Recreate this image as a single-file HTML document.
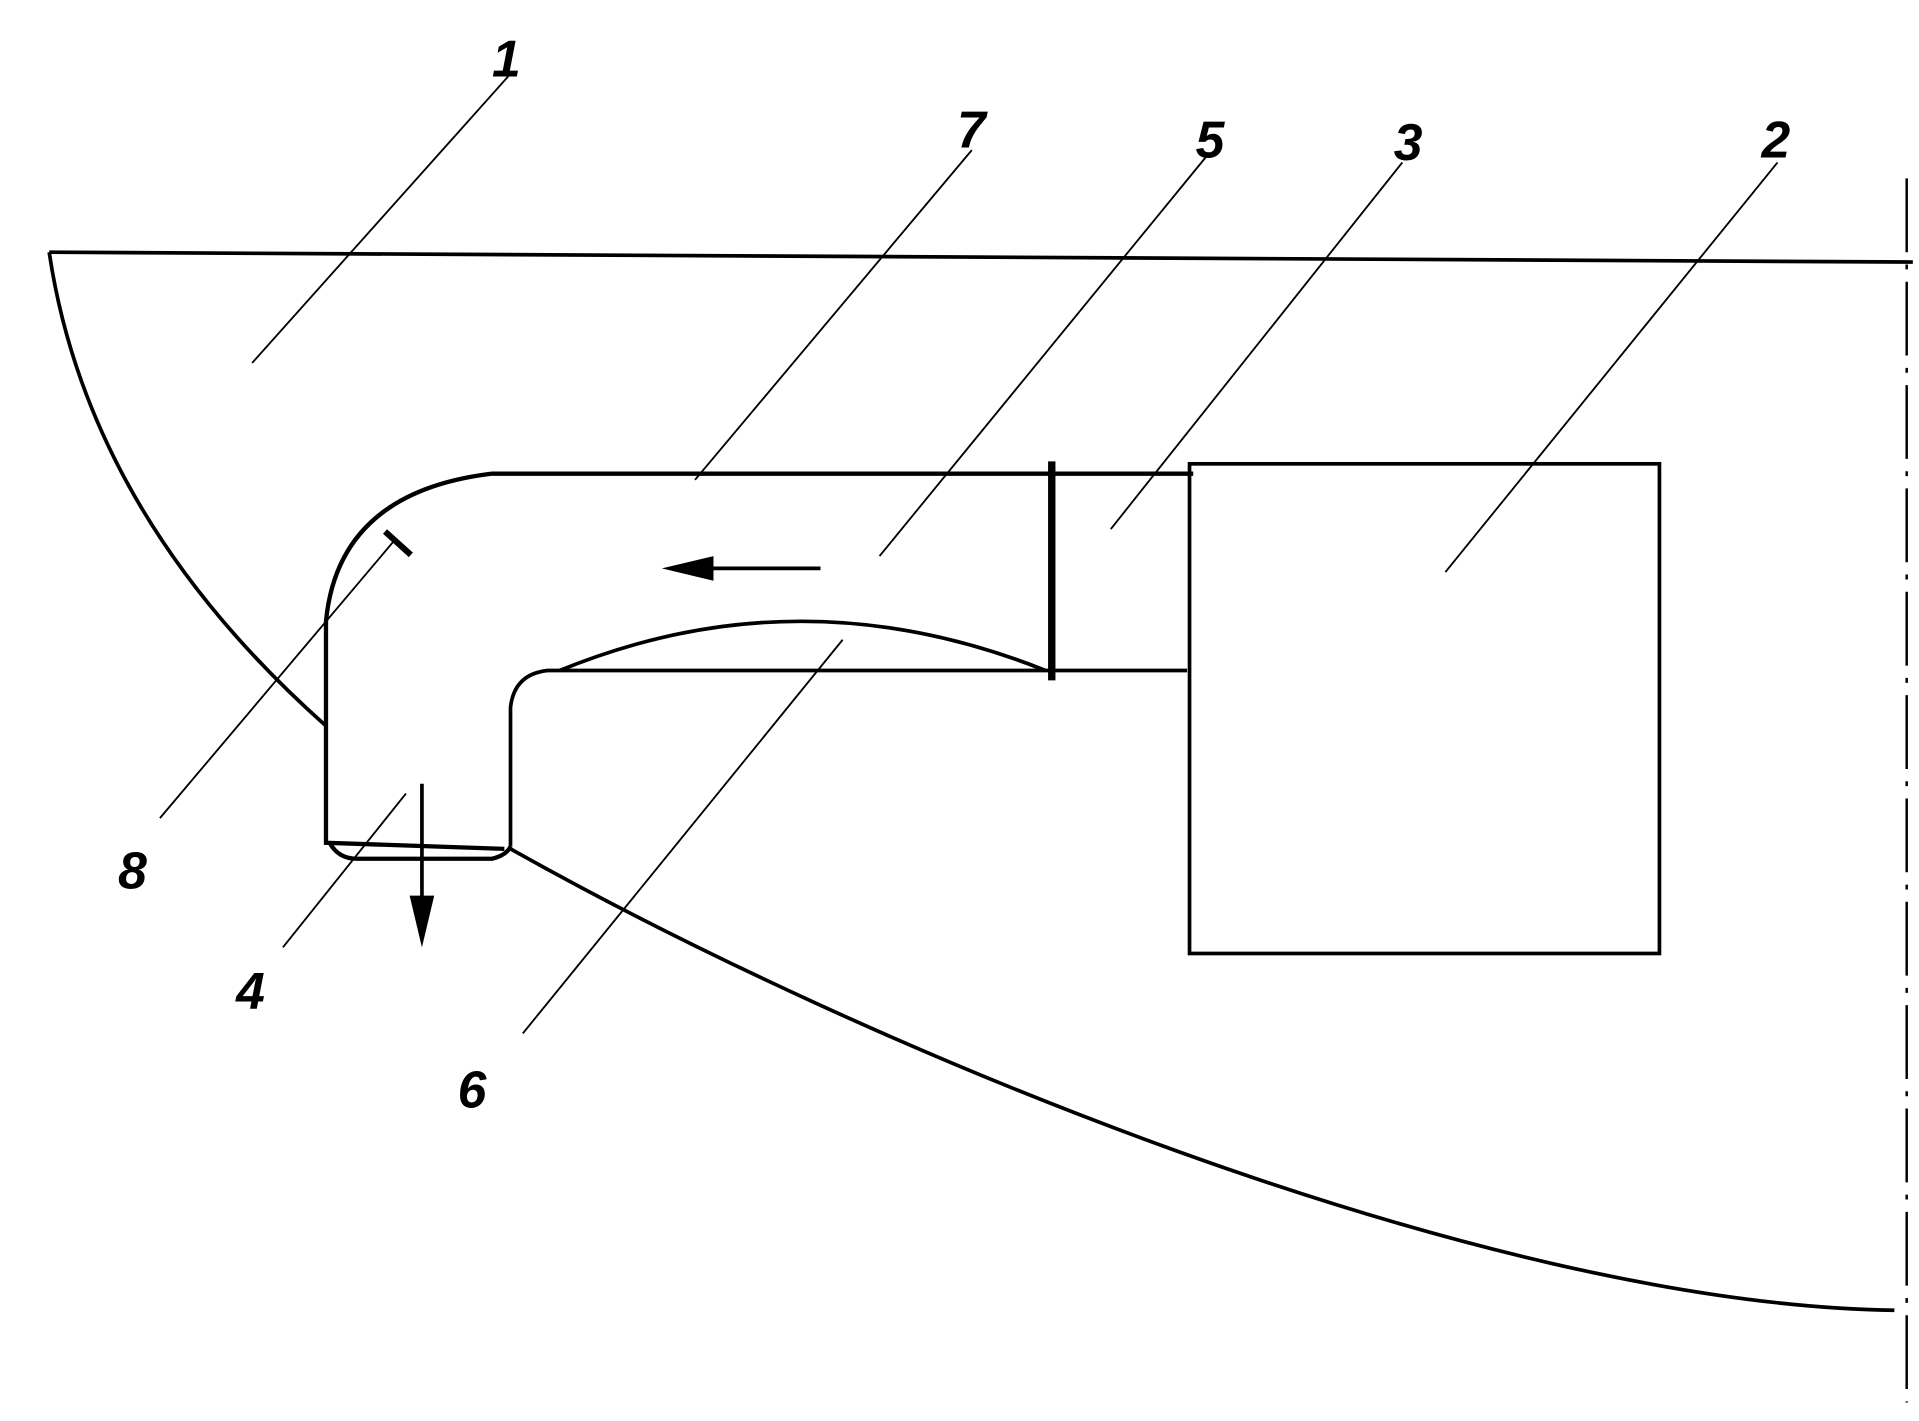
<!DOCTYPE html>
<html><head><meta charset="utf-8"><style>
html,body{margin:0;padding:0;background:#fff;}
svg{display:block;}
text{font-family:"Liberation Sans",sans-serif;font-style:italic;font-weight:bold;font-size:42px;fill:#000;}
</style></head><body>
<svg width="1919" height="1421" viewBox="0 0 1560 1155" preserveAspectRatio="none" xmlns="http://www.w3.org/2000/svg">
<g fill="none" stroke="#000" stroke-width="3">
<line x1="40" y1="205" x2="1555" y2="213"/>
<line x1="1550" y1="145" x2="1550" y2="1140" stroke-dasharray="60,10,4,10" stroke-width="2"/>
<path d="M40,205 C60,340 130,470 265,590"/>
<path d="M415,690 C700,850 1200,1060 1540,1065"/>
<path d="M265,590 L265,685 L410,690 M265,590 L265,505 Q275,400 400,385 L970,385" stroke-width="3.5"/>
<path d="M415,688 L415,575 Q418,548 445,545 L965,545"/>
<path d="M268,685 Q275,698 290,698 L400,698 Q412,695 415,688" stroke-width="3.5"/>
<path d="M455,545 Q650,465 850,545"/>
<line x1="855" y1="375" x2="855" y2="553" stroke-width="6"/>
<rect x="967" y="377" width="382" height="398"/>
<line x1="313" y1="432" x2="334" y2="451" stroke-width="5"/>
<line x1="560" y1="462" x2="667" y2="462"/>
<line x1="343" y1="637" x2="343" y2="755"/>
<g stroke-width="1.5">
<line x1="205" y1="295" x2="415" y2="60"/>
<line x1="565" y1="390" x2="790" y2="122"/>
<line x1="715" y1="452" x2="980" y2="128"/>
<line x1="903" y1="430" x2="1140" y2="132"/>
<line x1="1175" y1="465" x2="1445" y2="132"/>
<line x1="130" y1="665" x2="320" y2="440"/>
<line x1="230" y1="770" x2="330" y2="645"/>
<line x1="425" y1="840" x2="685" y2="520"/>
</g>
</g>
<polygon points="538,462 580,452 580,472" fill="#000"/>
<polygon points="343,770 333,728 353,728" fill="#000"/>
<text x="400" y="62">1</text>
<text x="778" y="120">7</text>
<text x="972" y="128">5</text>
<text x="1133" y="130">3</text>
<text x="1432" y="128">2</text>
<text x="96" y="722">8</text>
<text x="192" y="820">4</text>
<text x="372" y="900">6</text>
</svg>
</body></html>
